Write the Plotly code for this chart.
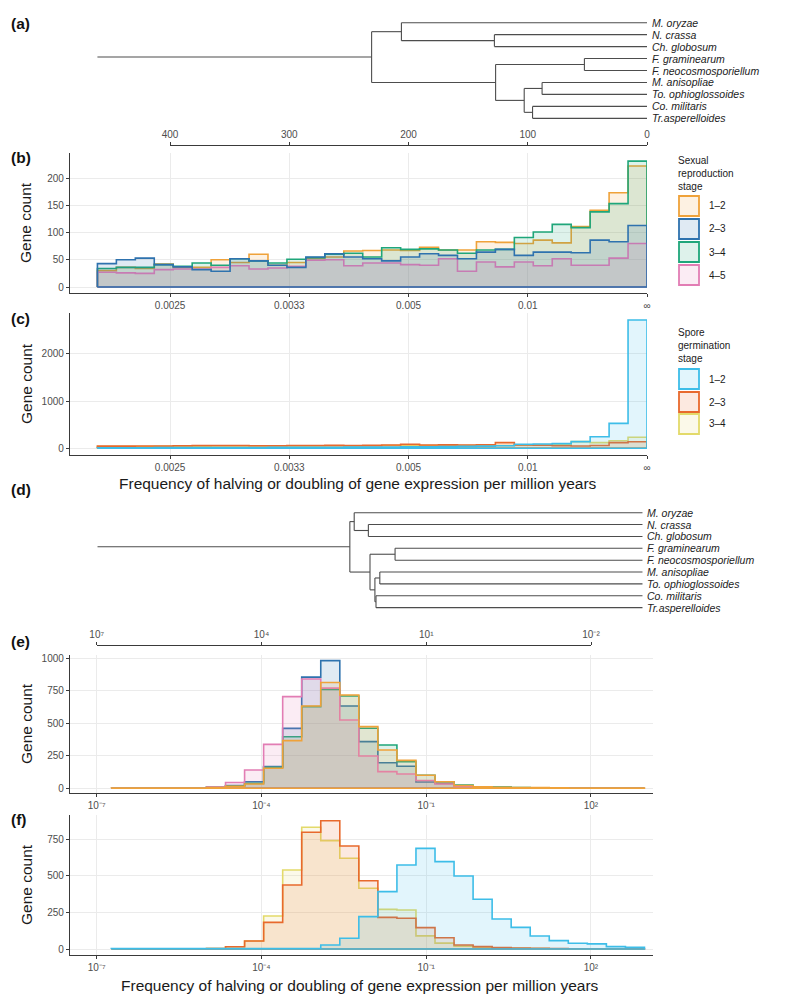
import numpy as np
import plotly.graph_objects as go

W, H = 787, 1000
PAGE_OFFSET = 8  # default page margin of the browser around the figure
FONT = "Liberation Sans, Arial, sans-serif"

TIPS = ["M. oryzae", "N. crassa", "Ch. globosum", "F. graminearum", "F. neocosmosporiellum",
        "M. anisopliae", "To. ophioglossoides", "Co. militaris", "Tr.asperelloides"]
TREE_CHILDREN = {
    "A": ["B", "D"], "B": ["M. oryzae", "C"], "C": ["N. crassa", "Ch. globosum"],
    "D": ["E", "F"], "E": ["F. graminearum", "F. neocosmosporiellum"], "F": ["G", "H"],
    "G": ["M. anisopliae", "To. ophioglossoides"], "H": ["Co. militaris", "Tr.asperelloides"]}
# panel (a): node ages in million years
TREE_A_AGES = {"root": 461, "A": 231, "B": 206, "C": 128, "D": 127, "E": 52.5, "F": 103, "G": 88, "H": 96}
# panel (d): relative node depths (root = 1)
TREE_D_DEPTHS = {"root": 1.0, "A": 0.537, "B": 0.529, "C": 0.503, "D": 0.500, "E": 0.454,
                 "F": 0.491, "G": 0.482, "H": 0.489}

TIME_BIN_START = 461
TIME_TICKS = [400, 300, 200, 100, 0]
FREQ_LABELS = ["0.0025", "0.0033", "0.005", "0.01", "∞"]
TIME_LABELS = ["400", "300", "200", "100", "0"]

SEX_STAGES = ["1–2", "2–3", "3–4", "4–5"]
SEX_12 = [30, 36, 34, 42, 36, 36, 50, 45, 60, 40, 45, 52, 55, 66, 67, 68, 67, 73, 68, 68, 83, 82, 80, 86, 81, 111, 141, 173, 222]
SEX_23 = [43, 50, 53, 41, 37, 32, 29, 52, 48, 40, 36, 55, 61, 55, 52, 48, 55, 61, 58, 52, 64, 69, 58, 64, 64, 63, 86, 83, 113]
SEX_34 = [34, 36, 36, 41, 38, 44, 40, 52, 48, 44, 51, 54, 60, 62, 55, 72, 69, 70, 68, 62, 68, 69, 91, 101, 115, 109, 138, 153, 231]
SEX_45 = [27, 26, 25, 32, 33, 33, 36, 39, 33, 35, 38, 49, 50, 39, 44, 44, 41, 40, 52, 29, 46, 37, 46, 39, 52, 40, 40, 53, 80]

SPORE_STAGES = ["1–2", "2–3", "3–4"]
SPORE_12 = [12, 12, 12, 14, 14, 16, 16, 18, 18, 20, 20, 22, 22, 24, 26, 28, 30, 32, 35, 40, 45, 55, 85, 90, 100, 141, 246, 528, 2719]
SPORE_23 = [45, 45, 48, 50, 55, 60, 60, 58, 55, 55, 58, 60, 62, 60, 62, 70, 85, 70, 72, 70, 75, 120, 70, 65, 55, 50, 60, 120, 140]
SPORE_34 = [35, 35, 38, 40, 42, 45, 48, 48, 50, 50, 52, 50, 55, 52, 55, 58, 55, 60, 62, 58, 60, 60, 65, 70, 80, 141, 120, 160, 233]

LOG_BIN_START = -6.733
LOG_BIN_WIDTH = 0.3467
LOG_TICKS = [1e-7, 1e-4, 1e-1, 1e2]
LOG_LABELS = ["10⁻⁷", "10⁻⁴", "10⁻¹", "10²"]
LOG_TOP_LABELS = ["10⁷", "10⁴", "10¹", "10⁻²"]

E_12 = [2, 2, 2, 2, 2, 5, 15, 33, 154, 367, 633, 813, 718, 474, 295, 215, 100, 51, 22, 12, 8, 6, 5, 4, 3, 3, 2, 2]
E_23 = [0, 0, 0, 0, 0, 8, 22, 51, 167, 461, 855, 982, 633, 359, 197, 170, 48, 38, 18, 8, 5, 3, 2, 1, 1, 0, 0, 0]
E_34 = [0, 0, 0, 0, 0, 8, 18, 38, 161, 397, 628, 761, 710, 462, 333, 205, 100, 51, 25, 12, 10, 5, 3, 2, 1, 1, 0, 0]
E_45 = [0, 0, 0, 0, 0, 10, 45, 141, 338, 705, 840, 770, 525, 249, 128, 110, 60, 33, 15, 8, 4, 2, 1, 0, 0, 0, 0, 0]

F_12 = [3, 3, 3, 3, 3, 3, 3, 3, 3, 3, 3, 27, 73, 221, 392, 574, 688, 597, 499, 340, 205, 148, 89, 57, 39, 35, 16, 12]
F_23 = [0, 0, 0, 0, 0, 3, 15, 55, 182, 438, 798, 877, 704, 467, 216, 210, 146, 77, 27, 16, 10, 6, 4, 3, 2, 1, 1, 1]
F_34 = [0, 0, 0, 0, 0, 3, 15, 55, 226, 540, 832, 741, 620, 415, 271, 267, 90, 40, 20, 12, 8, 5, 3, 2, 1, 1, 1, 0]

SEX_COLORS = ["#EFA23A", "#2E72AE", "#1FA67A", "#E27DB4"]
SPORE_COLORS = ["#3DBDE8", "#E8692D", "#E3DA6A"]
ALPHA = 0.15


def fx(px):
    return (px - PAGE_OFFSET) / W


def fy(py):
    return 1 - (py - PAGE_OFFSET) / H


def rgba(hexc, a):
    h = hexc.lstrip("#")
    r, g, b = int(h[0:2], 16), int(h[2:4], 16), int(h[4:6], 16)
    return f"rgba({r},{g},{b},{a})"


def step_polygon(edges, counts):
    xs = [edges[0], edges[0]]
    ys = [0, counts[0]]
    for k in range(1, len(counts)):
        xs.append(edges[k])
        ys.append(counts[k])
    xs += [edges[-1], edges[-1], edges[0]]
    ys += [counts[-1], 0, 0]
    return xs, ys


def tree_segments(ages):
    ypos = {t: i for i, t in enumerate(TIPS)}

    def gety(n):
        if n in ypos:
            return ypos[n]
        ys = [gety(c) for c in TREE_CHILDREN[n]]
        ypos[n] = sum(ys) / len(ys)
        return ypos[n]

    gety("A")
    age = lambda n: ages.get(n, 0)
    xs, ys = [ages["root"], ages["A"], None], [ypos["A"], ypos["A"], None]
    for n, ch in TREE_CHILDREN.items():
        cy = [ypos[c] for c in ch]
        xs += [age(n), age(n), None]
        ys += [min(cy), max(cy), None]
        for c in ch:
            xs += [age(n), age(c), None]
            ys += [ypos[c], ypos[c], None]
    return xs, ys


fig = go.Figure()
ann = []

# ---------- trees ----------
for ages, xa, ya in [(TREE_A_AGES, "x", "y"), (TREE_D_DEPTHS, "x5", "y5")]:
    tx, ty = tree_segments(ages)
    fig.add_trace(go.Scatter(x=tx, y=ty, mode="lines", line=dict(color="#4d4d4d", width=1.1),
                             xaxis=xa, yaxis=ya, showlegend=False, hoverinfo="skip"))
    for i, t in enumerate(TIPS):
        ann.append(dict(text=f"<i>{t}</i>", x=0, y=i, xref=xa, yref=ya, xanchor="left",
                        yanchor="middle", xshift=3, showarrow=False,
                        font=dict(family=FONT, size=10.5, color="#222")))

# ---------- histograms ----------
time_edges = np.linspace(TIME_BIN_START, 0, len(SEX_12) + 1)
log_edges = 10 ** (LOG_BIN_START + LOG_BIN_WIDTH * np.arange(len(E_12) + 1))


def add_hist(edges, counts, color, xa, ya):
    xs, ys = step_polygon(list(edges), counts)
    fig.add_trace(go.Scatter(x=xs, y=ys, mode="lines", line=dict(color=color, width=1.6, shape="hv"),
                             fill="toself", fillcolor=rgba(color, ALPHA),
                             xaxis=xa, yaxis=ya, showlegend=False, hoverinfo="skip"))


sex_series = [SEX_12, SEX_23, SEX_34, SEX_45]
for i in [0, 2, 3, 1]:
    add_hist(time_edges, sex_series[i], SEX_COLORS[i], "x2", "y2")
spore_series = [SPORE_12, SPORE_23, SPORE_34]
for i in [2, 1, 0]:
    add_hist(time_edges, spore_series[i], SPORE_COLORS[i], "x4", "y4")
e_series = [E_12, E_23, E_34, E_45]
for i in [1, 2, 3, 0]:
    add_hist(log_edges, e_series[i], SEX_COLORS[i], "x6", "y6")
f_series = [F_12, F_23, F_34]
for i in [2, 1, 0]:
    add_hist(log_edges, f_series[i], SPORE_COLORS[i], "x8", "y8")

# invisible traces carrying the two top scale axes (on thin hidden y axes)
fig.add_trace(go.Scatter(x=[TIME_TICKS[0], TIME_TICKS[-1]], y=[None, None], xaxis="x3", yaxis="y9",
                         showlegend=False, hoverinfo="skip", mode="lines"))
fig.add_trace(go.Scatter(x=[LOG_TICKS[0], LOG_TICKS[-1]], y=[None, None], xaxis="x7", yaxis="y10",
                         showlegend=False, hoverinfo="skip", mode="lines"))

tickfont = dict(family=FONT, size=10, color="#4d4d4d")
AX = dict(showline=True, linecolor="#3a3a3a", linewidth=1.3, ticks="outside", ticklen=3,
          tickcolor="#3a3a3a", tickwidth=1, tickfont=tickfont, gridcolor="#ebebeb", gridwidth=0.9,
          zeroline=False, fixedrange=True, automargin=False)
HIDDEN = dict(visible=False, fixedrange=True, showgrid=False, zeroline=False)

TIME_RANGE = [484, 0]
LOG_RANGE = [-7.485, 3.13]

layout = dict(
    width=W, height=H, autosize=False, margin=dict(l=0, r=0, t=0, b=0, pad=0),
    paper_bgcolor="white", plot_bgcolor="rgba(0,0,0,0)",
    font=dict(family=FONT),
    # tree (a)
    xaxis=dict(HIDDEN, domain=[fx(70), fx(647)], range=TIME_RANGE, anchor="y"),
    yaxis=dict(HIDDEN, domain=[fy(131), fy(10)], range=[9.06, -1.063], anchor="x"),
    # panel (b)
    xaxis2=dict(AX, domain=[fx(70), fx(647)], range=TIME_RANGE, anchor="y2",
                tickvals=TIME_TICKS, ticktext=FREQ_LABELS, showgrid=True),
    yaxis2=dict(AX, domain=[fy(293), fy(153)], range=[-11, 246], anchor="x2",
                tickvals=[0, 50, 100, 150, 200], showgrid=True),
    # time scale above (b)
    xaxis3=dict(AX, domain=[fx(170), fx(647)], range=[TIME_TICKS[0], TIME_TICKS[-1]], anchor="free",
                position=fy(145), side="top", tickvals=TIME_TICKS, ticktext=TIME_LABELS, showgrid=False),
    yaxis9=dict(HIDDEN, domain=[fy(146), fy(144)], range=[0, 1], anchor="x3"),
    # panel (c)
    xaxis4=dict(AX, domain=[fx(70), fx(647)], range=TIME_RANGE, anchor="y4",
                tickvals=TIME_TICKS, ticktext=FREQ_LABELS, showgrid=True),
    yaxis4=dict(AX, domain=[fy(455), fy(313)], range=[-142, 2866], anchor="x4",
                tickvals=[0, 1000, 2000], showgrid=True),
    # tree (d)
    xaxis5=dict(HIDDEN, domain=[fx(70), fx(653)], range=[1.0505, -0.0193], anchor="y5"),
    yaxis5=dict(HIDDEN, domain=[fy(620), fy(500)], range=[9.04, -1.07], anchor="x5"),
    # panel (e)
    xaxis6=dict(AX, domain=[fx(70), fx(653)], type="log", range=LOG_RANGE, anchor="y6",
                tickvals=LOG_TICKS, ticktext=LOG_LABELS, showgrid=True),
    yaxis6=dict(AX, domain=[fy(793), fy(655)], range=[-36, 1025], anchor="x6",
                tickvals=[0, 250, 500, 750, 1000], showgrid=True),
    # scale above (e)
    xaxis7=dict(AX, domain=[fx(96.7), fx(591)], type="log", range=[-7, 2], anchor="free",
                position=fy(645), side="top", tickvals=LOG_TICKS, ticktext=LOG_TOP_LABELS, showgrid=False),
    yaxis10=dict(HIDDEN, domain=[fy(646), fy(644)], range=[0, 1], anchor="x7"),
    # panel (f)
    xaxis8=dict(AX, domain=[fx(70), fx(653)], type="log", range=LOG_RANGE, anchor="y8",
                tickvals=LOG_TICKS, ticktext=LOG_LABELS, showgrid=True),
    yaxis8=dict(AX, domain=[fy(955), fy(815)], range=[-41, 916], anchor="x8",
                tickvals=[0, 250, 500, 750], showgrid=True),
)
fig.update_layout(**layout)

for lab, py in [("(a)", 23), ("(b)", 157), ("(c)", 318), ("(d)", 489), ("(e)", 641), ("(f)", 819)]:
    ann.append(dict(text=f"<b>{lab}</b>", x=fx(9), y=fy(py), xref="paper", yref="paper",
                    xanchor="left", yanchor="middle", showarrow=False,
                    font=dict(family=FONT, size=15.5, color="#111")))
for py in [223, 384, 724, 885]:
    ann.append(dict(text="Gene count", x=fx(26), y=fy(py), xref="paper", yref="paper",
                    textangle=-90, xanchor="center", yanchor="middle", showarrow=False,
                    font=dict(family=FONT, size=15.5, color="#1a1a1a")))
for py, cx in [(483, 358), (985, 360)]:
    ann.append(dict(text="Frequency of halving or doubling of gene expression per million years",
                    x=fx(cx), y=fy(py), xref="paper", yref="paper", xanchor="center", yanchor="middle",
                    showarrow=False, font=dict(family=FONT, size=15.5, color="#1a1a1a")))

shapes = []


def add_legend(title, top, labels, colors, key_tops):
    ann.append(dict(text=title, x=fx(676), y=fy(top), xref="paper", yref="paper", xanchor="left",
                    yanchor="top", align="left", showarrow=False,
                    font=dict(family=FONT, size=10, color="#1a1a1a")))
    for lab, col, kt in zip(labels, colors, key_tops):
        shapes.append(dict(type="rect", xref="paper", yref="paper", x0=fx(679), x1=fx(699),
                           y0=fy(kt + 20), y1=fy(kt), fillcolor=rgba(col, ALPHA),
                           line=dict(color=col, width=1.8)))
        ann.append(dict(text=lab, x=fx(707), y=fy(kt + 10), xref="paper", yref="paper",
                        xanchor="left", yanchor="middle", showarrow=False,
                        font=dict(family=FONT, size=10, color="#1a1a1a")))


add_legend("Sexual<br>reproduction<br>stage", 153, SEX_STAGES, SEX_COLORS, [196, 219, 242, 265])
add_legend("Spore<br>germination<br>stage", 325, SPORE_STAGES, SPORE_COLORS, [369, 392, 414])

fig.update_layout(annotations=ann, shapes=shapes)
fig.write_html("out.html")
